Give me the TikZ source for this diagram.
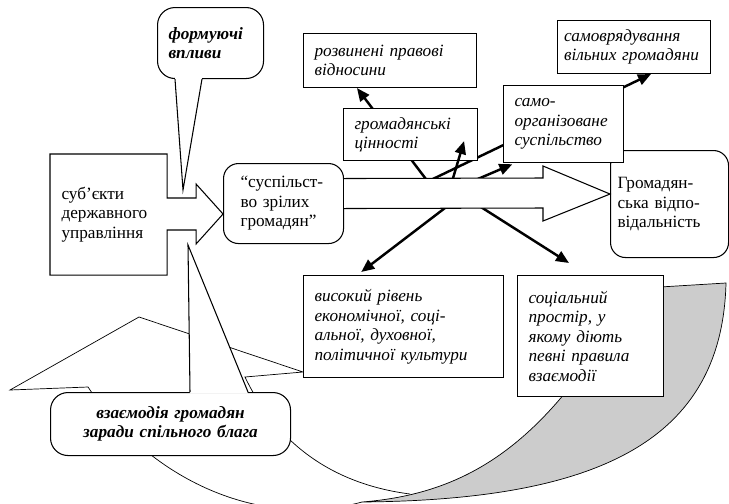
\documentclass[tikz,border=0pt]{standalone}
\usepackage{fontspec}
\setmainfont{Liberation Serif}
\usepackage{tikz}
\usetikzlibrary{arrows.meta, calc, backgrounds}
\definecolor{foldgray}{gray}{0.8}

\begin{document}
\begin{tikzpicture}[>={Triangle[length=0.26cm, width=0.22cm]},
				semithick,
				box/.style={draw, fill=white, anchor=north west, align=left, inner xsep=0.22cm, font=\fontsize{9.8}{11.1}\selectfont\itshape},
				round/.style={box, rounded corners=0.3cm, font=\fontsize{9.8}{11.1}\selectfont},
				note/.style={box, rounded corners=0.35cm, font=\fontsize{9.8}{11.1}\selectfont\bfseries\itshape},
				link/.style={->, line width=1.4pt}]
				\useasboundingbox (0,0) rectangle (14.58,10.06);
				\node (subj) [box, draw=none, fill=none, font=\fontsize{9.8}{11.1}\selectfont, text width=1.88cm, minimum height=2.4cm] at (1.0,6.98) {суб’єкти\\державного\\управління};
				\node (form) [note, text width=1.68cm, minimum height=1.42cm] at (3.14,9.92) {формуючі\\впливи};
				\node (vzaem) [note, align=center, text width=4.36cm, minimum height=1.26cm] at (1.0,2.22) {взаємодія громадян\\заради спільного блага};
				\node (susp) [round, inner xsep=0.34cm, text width=1.72cm, minimum height=1.6cm] at (4.46,6.8) {“суспільст-\\во зрілих\\громадян”};
				\node (vidp) [round, inner xsep=0.14cm, text width=2.08cm, minimum height=2.14cm] at (12.2,7.06) {Громадян-\\ська відпо-\\відальність};
				\node (rozv) [box, text width=3.02cm, minimum height=1.08cm] at (6.06,9.4) {розвинені правові\\відносини};
				\node (cinn) [box, text width=2.24cm, minimum height=1.04cm] at (6.86,7.9) {громадянські\\цінності};
				\node (samoorg) [box, text width=1.96cm, minimum height=1.54cm] at (10.06,8.36) {само-\\організоване\\суспільство};
				\node (samovr) [box, inner xsep=0.13cm, text width=2.8cm, minimum height=1.06cm] at (11.14,9.66) {самоврядування\\вільних громадяни};
				\node (kult) [box, text width=3.56cm, minimum height=2.04cm] at (6.06,4.56) {високий рівень\\економічної, соці-\\альної, духовної,\\політичної культури};
				\node (prostir) [box, text width=2.48cm, minimum height=2.42cm] at (10.34,4.56) {соціальний\\простір, у\\якому діють\\певні правила\\взаємодії};
				\coordinate (formtip) at (3.66,6.26);
				\coordinate (vzaemtip) at (3.76,5.16);
				\coordinate (ha) at (8.76,6.16);
				\coordinate (hb) at (8.96,6.16);
				\coordinate (hc) at (8.2,6.26);
				\coordinate (hd) at (9.04,6.26);
				\coordinate (he) at (9.24,6.16);
				\coordinate (btip) at ($(cinn.south east)+(-0.28,0.4)$);
				\coordinate (ftip) at ($(prostir.north west)+(1.04,0.24)$);
				\coordinate (tip) at ($(vidp.west)+(0,0.2)$);
				% curved arrow and the thin links lie behind the boxes
				\begin{scope}[on background layer]
					\draw[fill=foldgray] (7.24,0.02) .. controls (9.0,0.16) and (10.4,0.86) .. (11.8,2.86) -- (13.2,4.32) -- (14.52,4.4) .. controls (14.44,1.26) and (12.0,0.06) .. (7.24,0.02) -- cycle;
					\draw (7.24,0.02) .. controls (5.2,-0.54) and (3.0,0.46) .. (1.76,2.32) -- (0.2,2.26) -- (2.78,3.72) -- (6.06,2.62) -- (4.9,2.52) .. controls (5.6,1.06) and (6.8,0.36) .. (8.2,0.18);
					\draw[link] (ha) -- ($(rozv.south west)!0.31!(rozv.south east)$);
					\draw[link] (hc) -- ($(samovr.south west)!0.61!(samovr.south east)$);
					\draw[link, shorten >=0.06cm] (hd) -- ($(samoorg.south west)!0.1!(samoorg.south east)$);
					\draw[link, shorten >=0.1cm] (he) -- ($(kult.north west)!0.27!(kult.north east)$);
					\draw[link] (he) -- (ftip);
				\end{scope}
				% box with arrow
				\draw (subj.north west) -- (subj.north east) -- ++(0,-0.88) -- ++(0.58,0) -- ++(0,0.28) -- ++(0.54,-0.6) -- ++(-0.54,-0.6) -- ++(0,0.28) -- ++(-0.58,0) |- (subj.south west) -- cycle;
				% callout pointers
				\fill[white] ($(form.south west)+(0.36,0.03)$) -- (formtip) -- ($(form.south west)+(0.9,0.03)$) -- cycle;
				\draw ($(form.south west)+(0.36,0)$) -- (formtip) -- ($(form.south west)+(0.9,0)$);
				\fill[white] ($(vzaem.north west)+(2.8,-0.03)$) -- (vzaemtip) -- ($(vzaem.north west)+(3.96,-0.03)$) -- cycle;
				\draw ($(vzaem.north west)+(2.8,0)$) -- (vzaemtip) -- ($(vzaem.north west)+(3.96,0)$);
				\draw[link] (hb) -- (btip);
				% big arrow
				\draw[fill=white] ($(susp.east)+(0,0.5)$) -- (10.86,6.5) -- (10.86,6.74) -- (tip) -- (10.86,5.64) -- (10.86,5.9) -- ($(susp.east)+(0,-0.1)$);
			\end{tikzpicture}
\end{document}
